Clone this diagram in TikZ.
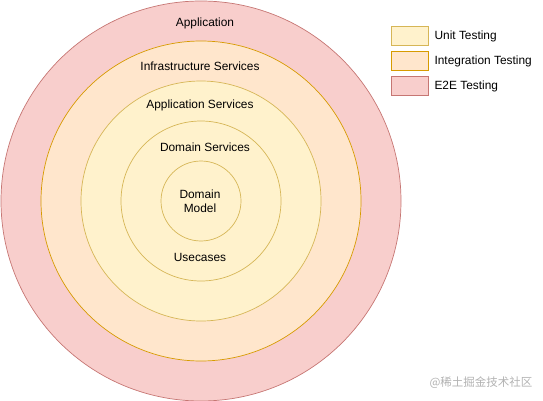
\documentclass[tikz,border=0pt]{standalone}
\usepackage{fontspec}
\setmainfont{Liberation Sans}
\newfontfamily\cjkfont{Noto Sans CJK SC}
\usepackage{tikz}
\usetikzlibrary{positioning}

\definecolor{unitfill}{HTML}{FFF2CC}
\definecolor{unitline}{HTML}{D6B656}
\definecolor{intfill}{HTML}{FFE6CC}
\definecolor{intline}{HTML}{D79B00}
\definecolor{etefill}{HTML}{F8CECC}
\definecolor{eteline}{HTML}{B85450}

\begin{document}
\begin{tikzpicture}[x=1pt,y=-1pt,
  lbl/.style={font=\fontsize{11.9}{14.5}\selectfont, inner sep=0pt, align=center},
  ring/.style={line width=0.7pt},
  keybox/.style={draw, line width=0.7pt, minimum width=37pt, minimum height=19pt, inner sep=0pt}]
  \useasboundingbox (0,0) rectangle (543,401);
  % 同心圆：由外向内
  \coordinate (O) at (201,201);
  \filldraw[ring, fill=etefill, draw=eteline!80] (O) circle (200);
  \filldraw[ring, fill=intfill, draw=intline] (O) circle (160);
  \filldraw[ring, fill=unitfill, draw=unitline] (O) circle (120);
  \filldraw[ring, fill=unitfill, draw=unitline] (O) circle (80);
  \filldraw[ring, fill=unitfill, draw=unitline] (O) circle (40);
  % 各层名称
  \node[lbl] (app)   at (205,23)  {Application};
  \node[lbl] (infra) at (200,66)  {Infrastructure Services};
  \node[lbl] (appsv) at (200,105) {Application Services};
  \node[lbl] (domsv) at (205,147) {Domain Services};
  \node[lbl] (model) at (200,201) {Domain\\Model};
  \node[lbl] (usec)  at (200,257) {Usecases};
  % 图例
  \node[keybox, fill=unitfill, draw=unitline] (kunit) at (409.5,36) {};
  \node[keybox, fill=intfill, draw=intline]   (kint)  at (409.5,61) {};
  \node[keybox, fill=etefill, draw=eteline!80] (kete)  at (409.5,86) {};
  \node[lbl, right=6pt of kunit] (tunit) {Unit Testing};
  \node[lbl, right=6pt of kint]  (tint)  {Integration Testing};
  \node[lbl, right=6pt of kete]  (tete)  {E2E Testing};
  % 水印
  \node[font=\cjkfont\fontsize{11.5}{14}\selectfont, text=gray!60, inner sep=0pt] (mark) at (481,383) {@稀土掘金技术社区};
\end{tikzpicture}
\end{document}
